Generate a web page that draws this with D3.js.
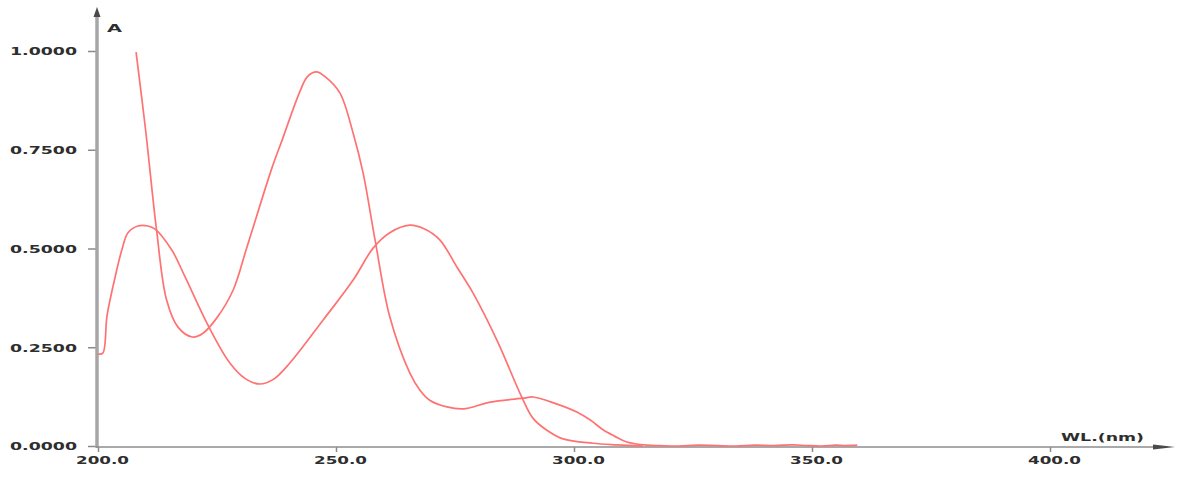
<!DOCTYPE html>
<html>
<head>
<meta charset="utf-8">
<script src="https://cdn.jsdelivr.net/npm/d3@7"></script>
<style>
  html, body { margin: 0; padding: 0; background: #fff; }
  svg { display: block; }
  .lbl { font-family: "DejaVu Sans", Verdana, sans-serif; font-weight: bold; fill: #2e2e2e; }
</style>
</head>
<body>
<svg id="chart" width="1179" height="477"></svg>
<script>
// Tick values for the two axes
const xTicks = [200, 250, 300, 350, 400];
const yTicks = [0, 0.25, 0.5, 0.75, 1.0];

// Spectrum 1: sharp drop from 208 nm, main band at ~246 nm, shoulder near 290 nm
const spec1WL  = [208.0, 210.0, 212.3, 214.4, 216.8, 219.8, 222.0, 225.0, 228.4, 231.3,
                  236.6, 238.7, 242.3, 244.0, 245.9, 247.7, 250.8, 253.6, 255.7, 258.2,
                  261.3, 265.5, 267.6, 269.7, 273.3, 276.7, 282.4, 289.3, 291.4, 296.0,
                  300.6, 303.5, 306.1, 308.5, 311.1, 315.3, 318.0, 322.0, 326.0, 330.0,
                  334.0, 338.0, 342.0, 346.0, 349.0, 352.0, 355.0, 357.0, 359.5];
const spec1Abs = [0.997, 0.800, 0.547, 0.370, 0.301, 0.276, 0.285, 0.325, 0.395, 0.504,
                  0.706, 0.775, 0.894, 0.935, 0.947, 0.935, 0.894, 0.792, 0.691, 0.522,
                  0.327, 0.185, 0.142, 0.116, 0.099, 0.094, 0.111, 0.121, 0.124, 0.108,
                  0.086, 0.065, 0.041, 0.025, 0.010, 0.002, 0.001, 0.000, 0.002, 0.001,
                  0.000, 0.002, 0.001, 0.003, 0.001, 0.000, 0.002, 0.001, 0.002];

// Spectrum 2: bands at ~209 nm and ~265 nm
const spec2WL  = [200.0, 201.0, 201.9, 203.6, 205.0, 206.3, 208.4, 210.5, 212.0, 215.5,
                  218.3, 223.1, 227.7, 231.0, 234.0, 237.0, 240.3, 247.3, 253.6, 257.8,
                  261.3, 265.5, 268.5, 271.8, 275.4, 278.8, 283.8, 289.1, 291.4, 294.3,
                  297.7, 304.0, 309.0, 314.5];
const spec2Abs = [0.233, 0.235, 0.330, 0.428, 0.496, 0.540, 0.557, 0.557, 0.549, 0.496,
                  0.428, 0.306, 0.210, 0.170, 0.157, 0.170, 0.210, 0.319, 0.420, 0.501,
                  0.540, 0.559, 0.550, 0.522, 0.453, 0.387, 0.268, 0.122, 0.070, 0.040,
                  0.018, 0.007, 0.003, 0.000];

const svg = d3.select("#chart");

const x = d3.scaleLinear().domain([200, 400]).range([98, 1050]);
const y = d3.scaleLinear().domain([0, 1]).range([446, 51]);

// Stretch a text node horizontally to a given width
function stretch(sel, width) {
  sel.attr("textLength", width).attr("lengthAdjust", "spacingAndGlyphs");
}

// Y axis ticks and labels
const yAxis = svg.append("g")
  .attr("transform", "translate(96,0)")
  .call(d3.axisLeft(y).tickValues(yTicks).tickFormat(d3.format(".4f")).tickSize(8).tickPadding(11));
yAxis.select(".domain").remove();
yAxis.selectAll(".tick line").attr("stroke", "#8a8a8a").attr("stroke-width", 1.5);
yAxis.selectAll(".tick text").attr("class", "lbl").attr("font-size", 11)
  .attr("dy", "0.36em").call(stretch, 67);

// X axis ticks and labels
const xAxis = svg.append("g")
  .attr("transform", "translate(0,447)")
  .call(d3.axisBottom(x).tickValues(xTicks).tickFormat(d3.format(".1f")).tickSize(5).tickPadding(10));
xAxis.select(".domain").remove();
xAxis.selectAll(".tick line").attr("stroke", "#8a8a8a").attr("stroke-width", 1.5);
xAxis.selectAll(".tick text").attr("class", "lbl").attr("font-size", 11)
  .attr("dx", 4).attr("y", 9).call(stretch, 53);

// Axis lines with arrow heads
svg.append("line")
  .attr("x1", 97).attr("x2", 97).attr("y1", 448).attr("y2", 12)
  .attr("stroke", "#a6a6a6").attr("stroke-width", 3.5);
svg.append("path")
  .attr("d", "M97,7 L93.5,17 L100.5,17 Z")
  .attr("fill", "#4a4a4a");

svg.append("line")
  .attr("x1", 96).attr("x2", 1160).attr("y1", 447).attr("y2", 447)
  .attr("stroke", "#8c8c8c").attr("stroke-width", 1.5);
svg.append("path")
  .attr("d", "M1175,447 L1153,444.5 L1153,449.5 Z")
  .attr("fill", "#4a4a4a");

// Axis titles
svg.append("text").attr("class", "lbl").attr("font-size", 11)
  .attr("x", 107).attr("y", 32).text("A").call(stretch, 15);
svg.append("text").attr("class", "lbl").attr("font-size", 11)
  .attr("x", 1061).attr("y", 441).text("WL.(nm)").call(stretch, 83);

// Spectra
const line = d3.line()
  .x(d => x(d[0]))
  .y(d => y(d[1]))
  .curve(d3.curveCatmullRom.alpha(0.5));

const spectra = [
  d3.zip(spec1WL, spec1Abs),
  d3.zip(spec2WL, spec2Abs)
];

svg.append("g").selectAll("path")
  .data(spectra)
  .join("path")
  .attr("d", line)
  .attr("fill", "none")
  .attr("stroke", "#ff7272")
  .attr("stroke-width", 1.7)
  .attr("stroke-linejoin", "round");
</script>
</body>
</html>
